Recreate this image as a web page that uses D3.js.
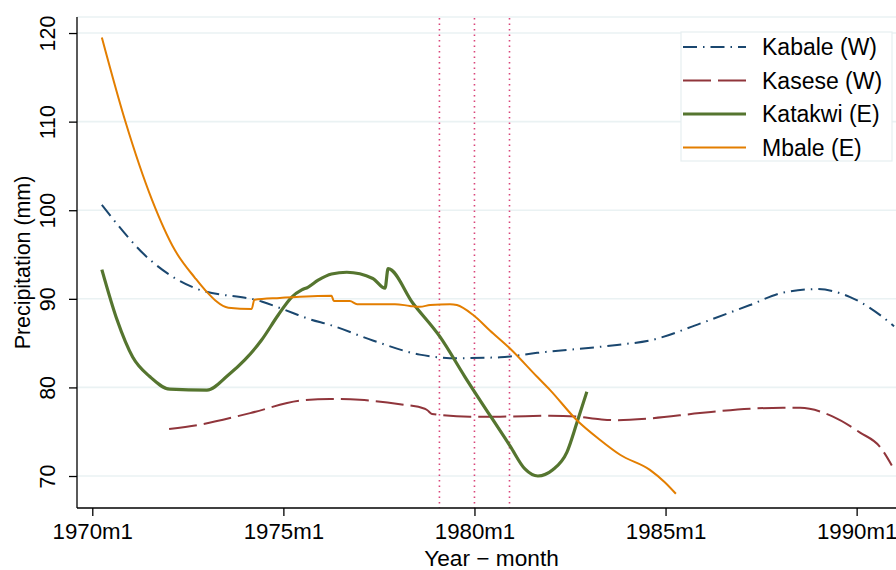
<!DOCTYPE html>
<html>
<head>
<meta charset="utf-8">
<script src="https://cdn.jsdelivr.net/npm/d3@7"></script>
<style>
html,body{margin:0;padding:0;background:#fff;}
svg{display:block;font-family:"Liberation Sans",Arial,Helvetica,sans-serif;}
</style>
</head>
<body>
<svg id="chart" width="896" height="570"></svg>
<script>
// ---- data (x = decimal year, y = precipitation mm) ----
const seriesNames = ["Kabale (W)", "Kasese (W)", "Katakwi (E)", "Mbale (E)"];

const kabaleX = [1970.25,1971.51,1972.69,1974.43,1975.25,1975.62,1976.26,1977.34,1978.57,1979.54,1980.67,1981.64,1983.73,1984.59,1985.90,1987.21,1988.07,1988.96,1989.83,1990.87,1990.98];
const kabaleY = [100.6,94.4,91.2,89.7,88.4,87.8,87.0,85.3,83.7,83.3,83.4,83.9,84.8,85.3,87.2,89.3,90.7,91.1,90.2,87.3,86.9];

const kaseseX = [1972.01,1972.82,1974.13,1975.43,1976.22,1977.00,1978.05,1978.70,1978.76,1978.89,1979.88,1980.67,1981.98,1982.68,1983.28,1983.68,1984.59,1985.90,1987.21,1988.07,1988.52,1989.38,1990.09,1990.61,1990.92];
const kaseseY = [75.3,75.8,77.1,78.5,78.7,78.6,78.1,77.6,77.45,77.0,76.7,76.7,76.8,76.7,76.4,76.3,76.5,77.1,77.6,77.7,77.7,76.7,74.9,73.3,71.2];

const katakwiX = [1970.25,1970.65,1971.06,1971.51,1972.03,1973.00,1973.56,1973.99,1974.43,1974.87,1975.22,1975.48,1975.64,1975.91,1976.26,1976.66,1977.34,1977.66,1977.74,1978.39,1979.10,1979.75,1980.93,1981.32,1981.66,1982.05,1982.42,1982.68,1982.94];
const katakwiY = [93.3,87.6,83.4,81.2,79.8,79.7,81.4,83.1,85.35,88.2,90.2,91.0,91.3,92.1,92.8,93.0,92.3,91.2,93.4,89.5,85.7,81.2,73.4,70.8,70.0,70.7,72.7,76.0,79.5];

const mbaleX = [1970.25,1970.86,1971.56,1972.16,1972.69,1972.95,1973.56,1974.17,1974.24,1974.91,1976.26,1976.32,1976.74,1976.93,1977.92,1978.31,1978.57,1978.84,1979.36,1979.54,1979.96,1980.41,1980.93,1981.64,1981.98,1982.68,1983.28,1983.81,1984.59,1984.98,1985.27];
const mbaleY = [119.5,110.1,101.2,95.5,92.35,91.0,89.0,88.85,89.9,90.1,90.35,89.75,89.75,89.4,89.4,89.2,89.1,89.3,89.4,89.3,88.2,86.4,84.4,81.2,79.7,76.3,74.1,72.4,70.7,69.3,68.0];

const xTickValues = [1970,1975,1980,1985,1990];
const xTickLabels = ["1970m1","1975m1","1980m1","1985m1","1990m1"];
const yTickValues = [70,80,90,100,110,120];
const refLines = [1979 + 1/12, 1980, 1980 + 11/12]; // 1979m2, 1980m1, 1980m12

// ---- layout ----
const svg = d3.select("#chart");
const L = 77, R = 896, T = 17, B = 508;
const x = d3.scaleLinear().domain([1969.6, 1991.03]).range([L, R]);
const y = d3.scaleLinear().domain([66.39, 121.81]).range([B, T]);

const colors = ["#1a476f", "#90353b", "#55752f", "#e37e00"];
const widths = [2, 2, 3.2, 2];
const dashes = ["14,6,1.5,6", "28,7", null, null];

// gridlines
svg.append("g").selectAll("line").data(yTickValues).join("line")
  .attr("x1", L).attr("x2", R).attr("y1", d => y(d)).attr("y2", d => y(d))
  .attr("stroke", "#eaf2f3").attr("stroke-width", 1.6);
svg.append("line").attr("x1", L).attr("x2", R).attr("y1", T).attr("y2", T)
  .attr("stroke", "#eaf2f3").attr("stroke-width", 1.6);

// reference lines
svg.append("g").selectAll("line").data(refLines).join("line")
  .attr("x1", d => x(d)).attr("x2", d => x(d)).attr("y1", T + 1).attr("y2", B)
  .attr("stroke", "#d9457a").attr("stroke-width", 1.6).attr("stroke-dasharray", "1.6,3.9");

// series
svg.append("clipPath").attr("id", "pc").append("rect")
  .attr("x", L).attr("y", T).attr("width", R - L).attr("height", B - T);
const allX = [kabaleX, kaseseX, katakwiX, mbaleX];
const allY = [kabaleY, kaseseY, katakwiY, mbaleY];
const line = d3.line().x(d => x(d[0])).y(d => y(d[1])).curve(d3.curveMonotoneX);
const plotG = svg.append("g").attr("clip-path", "url(#pc)");
allX.forEach((xs, i) => {
  const pts = xs.map((v, j) => [v, allY[i][j]]);
  plotG.append("path").datum(pts).attr("d", line)
    .attr("fill", "none").attr("stroke", colors[i]).attr("stroke-width", widths[i])
    .attr("stroke-linejoin", "round")
    .attr("stroke-dasharray", dashes[i]);
});

// axes
const xAxis = d3.axisBottom(x).tickValues(xTickValues)
  .tickFormat((d, i) => xTickLabels[i]).tickSize(8).tickSizeOuter(0);
const gx = svg.append("g").attr("transform", `translate(0,${B})`).call(xAxis);
gx.select(".domain").attr("stroke", "#000").attr("stroke-width", 1.3).attr("d", `M${L},0H${R}`);
gx.selectAll(".tick line").attr("stroke", "#000").attr("stroke-width", 1.3);
gx.selectAll(".tick text").attr("y", 31).attr("dy", null)
  .attr("font-size", 21.4).attr("fill", "#000").attr("font-family", null)
  .attr("transform", "scale(1.04,1)");

const yAxis = d3.axisLeft(y).tickValues(yTickValues).tickSize(8).tickSizeOuter(0);
const gy = svg.append("g").attr("transform", `translate(${L},0)`).call(yAxis);
gy.select(".domain").attr("stroke", "#000").attr("stroke-width", 1.3).attr("d", `M0,${T}V${B}`);
gy.selectAll(".tick line").attr("stroke", "#000").attr("stroke-width", 1.3);
gy.selectAll(".tick text").attr("x", 0).attr("y", -20.8).attr("dy", null)
  .attr("text-anchor", "middle").attr("font-size", 21.4).attr("fill", "#000").attr("font-family", null)
  .attr("transform", "scale(1.06,1) rotate(-90)");

// axis titles
svg.append("text").attr("transform", "translate(491.5,565.5) scale(1.06,1)")
  .attr("text-anchor", "middle").attr("font-size", 21.4).text("Year − month");
svg.append("text").attr("transform", `translate(30,${(T + B) / 2}) scale(1.06,1) rotate(-90)`)
  .attr("text-anchor", "middle").attr("font-size", 21.4).text("Precipitation (mm)");

// legend
const lg = svg.append("g");
lg.append("rect").attr("x", 681).attr("y", 32).attr("width", 211).attr("height", 129)
  .attr("fill", "#fff").attr("stroke", "#e6eef0").attr("stroke-width", 1.2);
const rowY = [47, 80.5, 114, 147.5];
seriesNames.forEach((name, i) => {
  lg.append("line").attr("x1", 683).attr("x2", 746).attr("y1", rowY[i]).attr("y2", rowY[i])
    .attr("stroke", colors[i]).attr("stroke-width", widths[i]).attr("stroke-dasharray", dashes[i]);
  lg.append("text").attr("x", 762).attr("y", rowY[i] + 8.3).attr("font-size", 23)
    .attr("fill", "#000").text(name);
});
</script>
</body>
</html>
